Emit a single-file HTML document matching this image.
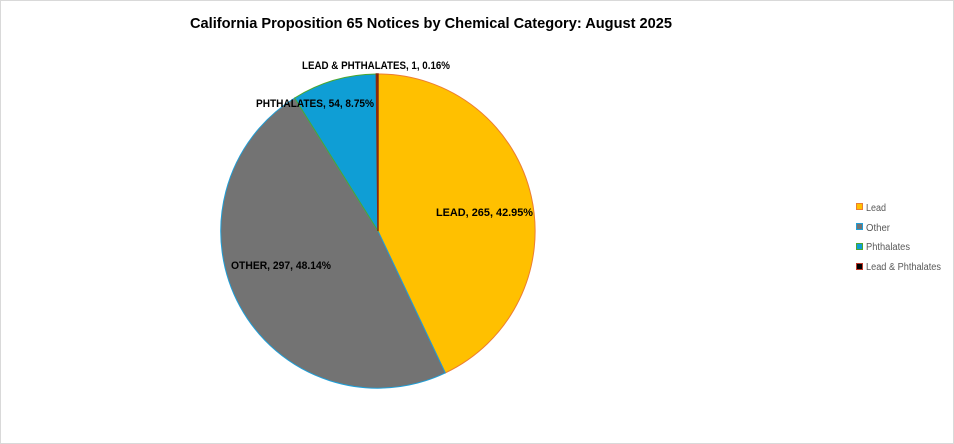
<!DOCTYPE html>
<html><head><meta charset="utf-8"><style>
html,body{margin:0;padding:0;background:#fff}
body{width:954px;height:444px;position:relative;overflow:hidden;font-family:"Liberation Sans",sans-serif}
.frame{position:absolute;left:0;top:0;width:952px;height:442px;border:1px solid #d9d9d9}
</style></head><body>
<div class="frame"></div>
<svg width="954" height="444" style="position:absolute;left:0;top:0">
<text x="190" y="28" textLength="482" lengthAdjust="spacingAndGlyphs" font-size="15" font-weight="bold" fill="#000">California Proposition 65 Notices by Chemical Category: August 2025</text>
<path d="M378,231 L378,74 A157,157 0 0 1 445.3,372.9 Z" fill="#ffc000" stroke="#ed7d31" stroke-width="1"/>
<path d="M378,231 L445.3,372.9 A157,157 0 0 1 294.6,98 Z" fill="#737373" stroke="#1f9fd8" stroke-width="1"/>
<path d="M378,231 L294.6,98 A157,157 0 0 1 376.4,74 Z" fill="#0f9ed5" stroke="#4ea72e" stroke-width="1"/>
<path d="M378,231 L376.4,74 A157,157 0 0 1 378,74 Z" fill="#000" stroke="#8b2a0a" stroke-width="1.5"/>
<g font-size="11" font-weight="bold" fill="#000">
<text x="302" y="69" textLength="148" lengthAdjust="spacingAndGlyphs">LEAD &amp; PHTHALATES, 1, 0.16%</text>
<text x="256" y="107" textLength="118" lengthAdjust="spacingAndGlyphs">PHTHALATES, 54, 8.75%</text>
<text x="436" y="216" textLength="97" lengthAdjust="spacingAndGlyphs">LEAD, 265, 42.95%</text>
<text x="231" y="269" textLength="100" lengthAdjust="spacingAndGlyphs">OTHER, 297, 48.14%</text>
</g>
<g font-size="10" fill="#595959">
<rect x="856.5" y="203.5" width="6" height="6" fill="#ffc000" stroke="#ed7d31"/><text x="866" y="211" textLength="20" lengthAdjust="spacingAndGlyphs">Lead</text>
<rect x="856.5" y="223.5" width="6" height="6" fill="#737373" stroke="#1f9fd8"/><text x="866" y="231" textLength="24" lengthAdjust="spacingAndGlyphs">Other</text>
<rect x="856.5" y="243.5" width="6" height="6" fill="#0f9ed5" stroke="#4ea72e"/><text x="866" y="250" textLength="44" lengthAdjust="spacingAndGlyphs">Phthalates</text>
<rect x="856.5" y="263.5" width="6" height="6" fill="#000" stroke="#c0392b"/><text x="866" y="270" textLength="75" lengthAdjust="spacingAndGlyphs">Lead &amp; Phthalates</text>
</g>
</svg>
</body></html>
